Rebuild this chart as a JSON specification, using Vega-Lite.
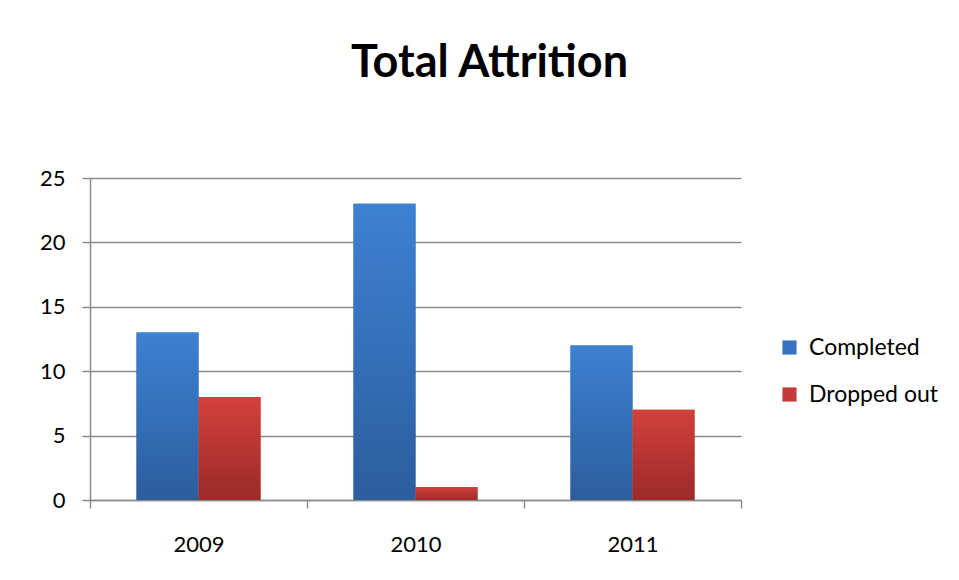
{
  "$schema": "https://vega.github.io/schema/vega-lite/v6.json",
  "width": 651,
  "height": 322,
  "autosize": {"type": "none"},
  "padding": {"left": 90, "top": 178, "right": 218, "bottom": 80},
  "background": "white",
  "title": {
    "text": "Total Attrition",
    "font": "Lato",
    "fontSize": 45,
    "fontWeight": "bold",
    "color": "black",
    "anchor": "middle",
    "frame": "group",
    "baseline": "alphabetic",
    "offset": 45,
    "dx": 74
  },
  "data": {
    "values": [
      {"year": "2009", "series": "Completed", "value": 13},
      {"year": "2009", "series": "Dropped out", "value": 8},
      {"year": "2010", "series": "Completed", "value": 23},
      {"year": "2010", "series": "Dropped out", "value": 1},
      {"year": "2011", "series": "Completed", "value": 12},
      {"year": "2011", "series": "Dropped out", "value": 7}
    ]
  },
  "encoding": {
    "x": {
      "field": "year",
      "type": "nominal",
      "scale": {"paddingInner": 0, "paddingOuter": 0},
      "axis": {
        "title": null,
        "labelAngle": 0,
        "labelFont": "Lato",
        "labelFontSize": 22,
        "labelColor": "black",
        "labelPadding": 26,
        "tickBand": "extent",
        "tickSize": 8,
        "tickColor": "#8c8c8c",
        "tickWidth": 1.5,
        "domainColor": "#8c8c8c",
        "domainWidth": 1.5,
        "grid": false
      }
    },
    "xOffset": {
      "field": "series",
      "type": "nominal",
      "scale": {"paddingInner": 0, "paddingOuter": 0.75}
    },
    "y": {
      "field": "value",
      "type": "quantitative",
      "scale": {"domain": [0, 25]},
      "axis": {
        "title": null,
        "values": [0, 5, 10, 15, 20, 25],
        "labelFont": "Lato",
        "labelFontSize": 22,
        "labelColor": "black",
        "labelPadding": 17,
        "tickSize": 8,
        "tickColor": "#8c8c8c",
        "tickWidth": 1.5,
        "domainColor": "#8c8c8c",
        "domainWidth": 1.5,
        "grid": true,
        "gridColor": "#8c8c8c",
        "gridWidth": 1.5
      }
    }
  },
  "layer": [
    {
      "mark": {"type": "bar"},
      "encoding": {
        "color": {
          "field": "series",
          "type": "nominal",
          "scale": {"domain": ["Completed", "Dropped out"], "range": ["#3672bf", "#c4393a"]},
          "legend": {
            "title": null,
            "orient": "none",
            "legendX": 688,
            "legendY": 158,
            "symbolType": "square",
            "symbolSize": 200,
            "symbolStrokeWidth": 0,
            "labelFont": "Lato",
            "labelFontSize": 23,
            "labelColor": "black",
            "labelOffset": 8,
            "rowPadding": 23
          }
        }
      }
    },
    {
      "mark": {"type": "bar"},
      "encoding": {
        "fill": {
          "condition": {
            "test": "datum.series === 'Completed'",
            "value": {
              "gradient": "linear", "x1": 0, "y1": 0, "x2": 0, "y2": 1,
              "stops": [{"offset": 0, "color": "#3d81d2"}, {"offset": 1, "color": "#2c5d9d"}]
            }
          },
          "value": {
            "gradient": "linear", "x1": 0, "y1": 0, "x2": 0, "y2": 1,
            "stops": [{"offset": 0, "color": "#d3403b"}, {"offset": 1, "color": "#9b2b28"}]
          }
        }
      }
    }
  ],
  "config": {"view": {"stroke": null}}
}
